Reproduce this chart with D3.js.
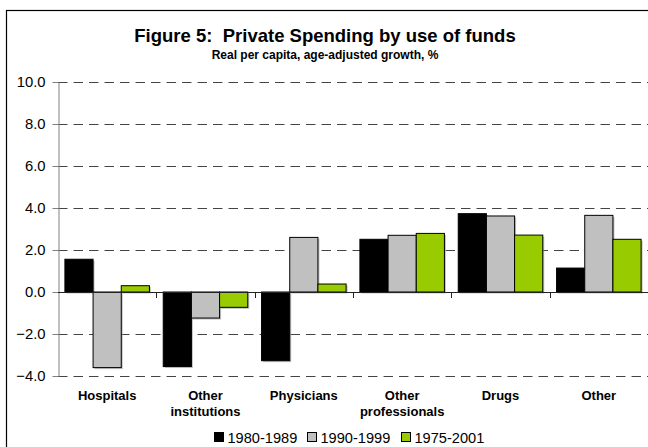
<!DOCTYPE html>
<html><head><meta charset="utf-8">
<script src="https://cdn.jsdelivr.net/npm/d3@7"></script>
<style>body{margin:0;background:#fff}svg{display:block;font-family:"Liberation Sans",Arial,sans-serif}</style>
</head><body>
<svg id="c" width="648" height="447"></svg>
<script>
const categories = [["Hospitals"],["Other","institutions"],["Physicians"],["Other","professionals"],["Drugs"],["Other"]];
const seriesNames = ["1980-1989","1990-1999","1975-2001"];
const s1980 = [1.56, -3.55, -3.27, 2.51, 3.73, 1.14];
const s1990 = [-3.6, -1.24, 2.6, 2.7, 3.62, 3.65];
const s1975 = [0.3, -0.73, 0.38, 2.79, 2.71, 2.51];
const yTicks = [-4, -2, 0, 2, 4, 6, 8, 10];
const colors = ["#000000","#c0c0c0","#99cc00"];
const series = [s1980, s1990, s1975];

const svg = d3.select("#c");
svg.append("rect").attr("x",6.5).attr("y",10.5).attr("width",660).attr("height",460)
  .attr("fill","#fff").attr("stroke","#000").attr("stroke-width",1.2);

const L = 58, R = 648, T = 82, B = 376;
const x = d3.scaleBand().domain(d3.range(categories.length)).range([L, R]).paddingInner(0).paddingOuter(0);
const y = d3.scaleLinear().domain([-4, 10]).range([B, T]);
const inner = d3.scaleBand().domain(d3.range(3)).range([0, x.bandwidth()]).paddingInner(0).paddingOuter(0.245);

// gridlines
svg.append("g").selectAll("line").data(yTicks.filter(v=>v!==0)).join("line")
  .attr("x1", L).attr("x2", R).attr("y1", d=>Math.round(y(d))+0.5).attr("y2", d=>Math.round(y(d))+0.5)
  .attr("stroke","#444").attr("stroke-dasharray","9.5,6");

// y axis
const ya = svg.append("g").attr("transform",`translate(${L+0.5},0)`)
  .call(d3.axisLeft(y).tickValues(yTicks).tickFormat(d3.format(".1f")).tickSize(6).tickSizeOuter(0));
ya.select(".domain").attr("stroke","#808080");
ya.selectAll(".tick line").attr("stroke","#808080");
ya.selectAll(".tick text").attr("font-size",14.8).attr("fill","#000").attr("x",-13).attr("font-family","Liberation Sans, Arial, sans-serif");

// bars
series.forEach((s, si) => {
  const g = svg.append("g");
  g.selectAll("rect.sh").data(s).join("rect").attr("class","sh")
    .attr("x",(d,i)=>x(i)+inner(si)+1.5).attr("width",inner.bandwidth())
    .attr("y",d=>Math.min(y(d),y(0))+1.5).attr("height",d=>Math.abs(y(d)-y(0)))
    .attr("fill","#999").attr("opacity",0.6);
  g.selectAll("rect.b").data(s).join("rect").attr("class","b")
    .attr("x",(d,i)=>x(i)+inner(si)).attr("width",inner.bandwidth())
    .attr("y",d=>Math.min(y(d),y(0))).attr("height",d=>Math.abs(y(d)-y(0)))
    .attr("fill",colors[si]).attr("stroke","#000").attr("stroke-width",1);
});

// x axis
svg.append("line").attr("x1",L).attr("x2",R).attr("y1",Math.round(y(0))+0.5).attr("y2",Math.round(y(0))+0.5).attr("stroke","#222");
svg.append("g").selectAll("line").data(d3.range(1,categories.length)).join("line")
  .attr("x1",d=>Math.round(x(d))+0.5).attr("x2",d=>Math.round(x(d))+0.5)
  .attr("y1",y(0)).attr("y2",y(0)+6).attr("stroke","#222");

// category labels
const cl = svg.append("g").selectAll("text").data(categories).join("text")
  .attr("x",(d,i)=>x(i)+x.bandwidth()/2).attr("y",400)
  .attr("text-anchor","middle").attr("font-size",13).attr("font-weight","bold");
cl.each(function(d){
  d3.select(this).selectAll("tspan").data(d).join("tspan")
    .attr("x",d3.select(this).attr("x")).attr("dy",(t,j)=>j===0?0:15.5).text(t=>t);
});

// titles
svg.append("text").attr("x",325).attr("y",42).attr("text-anchor","middle").style("white-space","pre")
  .attr("font-size",18.5).attr("font-weight","bold").text("Figure 5:  Private Spending by use of funds");
svg.append("text").attr("x",325).attr("y",59).attr("text-anchor","middle")
  .attr("font-size",12).attr("font-weight","bold").text("Real per capita, age-adjusted growth, %");

// legend
const legX = [214, 307, 401];
const lg = svg.append("g").selectAll("g").data(seriesNames).join("g")
  .attr("transform",(d,i)=>`translate(${legX[i]},0)`);
lg.append("rect").attr("x",0.5).attr("y",432.5).attr("width",9).attr("height",9)
  .attr("fill",(d,i)=>colors[i]).attr("stroke","#000");
lg.append("text").attr("x",13.5).attr("y",443).attr("font-size",14.6).text(d=>d);
</script>
</body></html>
